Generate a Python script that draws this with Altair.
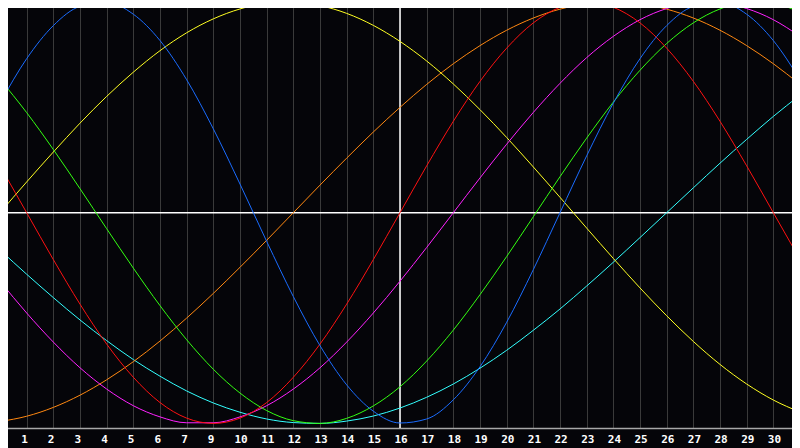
import altair as alt
import pandas as pd

# day index along the chart (0 .. 30)
days = list(range(31))

# values, one per day (-1 .. 1)
physical = [0.52, 0.731, 0.888, 0.979, 0.998, 0.942, 0.817, 0.631, 0.398, 0.136,
            -0.136, -0.398, -0.631, -0.817, -0.942, -0.998, -0.979, -0.888, -0.731, -0.52,
            -0.27, 0.0, 0.27, 0.52, 0.731, 0.888, 0.979, 0.998, 0.942, 0.817, 0.631]
emotional = [0.2225, 0.0, -0.2225, -0.4339, -0.6235, -0.781, -0.901, -0.975, -1.0, -0.975,
             -0.901, -0.781, -0.6235, -0.4339, -0.2225, 0.0, 0.2225, 0.4339, 0.6235, 0.781,
             0.901, 0.975, 1.0, 0.975, 0.901, 0.781, 0.6235, 0.4339, 0.2225, 0.0, -0.2225]
intellectual = [0.633, 0.475, 0.3, 0.114, -0.076, -0.263, -0.441, -0.603, -0.743, -0.856,
                -0.939, -0.987, -1.0, -0.976, -0.917, -0.826, -0.704, -0.557, -0.389, -0.208,
                -0.019, 0.171, 0.354, 0.525, 0.676, 0.803, 0.901, 0.967, 0.998, 0.992, 0.951]
intuitive = [-0.325, -0.476, -0.614, -0.736, -0.837, -0.916, -0.969, -0.997, -0.997, -0.969,
             -0.916, -0.837, -0.736, -0.614, -0.476, -0.325, -0.165, 0.0, 0.165, 0.325,
             0.476, 0.614, 0.736, 0.837, 0.916, 0.969, 0.997, 0.997, 0.969, 0.916, 0.837]
aesthetic = [0.0, 0.146, 0.288, 0.425, 0.552, 0.667, 0.769, 0.854, 0.92, 0.967,
             0.994, 0.999, 0.983, 0.946, 0.889, 0.813, 0.72, 0.611, 0.489, 0.357,
             0.217, 0.073, -0.073, -0.217, -0.357, -0.489, -0.611, -0.72, -0.813, -0.889, -0.946]
awareness = [-0.991, -0.966, -0.924, -0.866, -0.793, -0.707, -0.609, -0.5, -0.383, -0.259,
             -0.131, 0.0, 0.131, 0.259, 0.383, 0.5, 0.609, 0.707, 0.793, 0.866,
             0.924, 0.966, 0.991, 1.0, 0.991, 0.966, 0.924, 0.866, 0.793, 0.707, 0.609]
spiritual = [-0.177, -0.292, -0.403, -0.509, -0.607, -0.697, -0.776, -0.846, -0.903, -0.947,
             -0.979, -0.996, -1.0, -0.989, -0.965, -0.927, -0.876, -0.813, -0.738, -0.653,
             -0.558, -0.457, -0.348, -0.235, -0.118, 0.0, 0.118, 0.235, 0.348, 0.457, 0.558]

cycle_names = ["spiritual", "awareness", "aesthetic", "intuitive", "intellectual", "emotional", "physical"]
cycle_colors = ["#33ffff", "#ff8811", "#ffff22", "#ff22ff", "#33ff11", "#ff1111", "#1a6cff"]
cycle_values = [spiritual, awareness, aesthetic, intuitive, intellectual, emotional, physical]

# x-axis labels at grid lines 1..29
tick_days = list(range(1, 30))
tick_labels = ["1", "2", "3", "4", "5", "6", "7", "9", "10", "11", "12", "13", "14", "15",
               "16", "17", "18", "19", "20", "21", "22", "23", "24", "25", "26", "27", "28",
               "29", "30"]
today = [15]
zero = [0]

rows = []
for name, vals in zip(cycle_names, cycle_values):
    for d, v in zip(days, vals):
        rows.append({"day": d, "value": v, "cycle": name})
df = pd.DataFrame(rows)

label_expr = "[" + ",".join("'" + t + "'" for t in tick_labels) + "][datum.value - 1]"

xscale = alt.Scale(domain=[0, 30], nice=False, zero=False)
yscale = alt.Scale(domain=[-1.0218, 1.0095], nice=False, zero=False)

xaxis = alt.Axis(
    values=tick_days, labelExpr=label_expr, grid=True, gridColor="#3a3a3a", gridWidth=1,
    domainColor="#a8a8a8", domainWidth=1.5, ticks=False, tickSize=0,
    labelColor="#ffffff", labelFont="DejaVu Sans Mono", labelFontSize=11,
    labelFontWeight="bold", labelAlign="left", labelOffset=-6, labelPadding=5,
    labelBaseline="top", labelFlush=False, labelOverlap=False, title="",
)

base_x = alt.X("day:Q", scale=xscale, axis=xaxis)

lines = alt.Chart(df).mark_line(strokeWidth=1, interpolate="monotone").encode(
    x=base_x,
    y=alt.Y("value:Q", scale=yscale, axis=None),
    color=alt.Color("cycle:N", scale=alt.Scale(domain=cycle_names, range=cycle_colors), legend=None),
)

hrule = alt.Chart(pd.DataFrame({"v": zero})).mark_rule(color="#ffffff", strokeWidth=1.5).encode(
    y=alt.Y("v:Q", scale=yscale, axis=None)
)
vrule = alt.Chart(pd.DataFrame({"d": today})).mark_rule(color="#ffffff", strokeWidth=1.5).encode(
    x=alt.X("d:Q", scale=xscale, axis=xaxis)
)

chart = alt.layer(hrule, vrule, lines).properties(
    width=800, height=428,
    padding={"left": -8, "top": -8, "right": -8, "bottom": 20},
    autosize=alt.AutoSizeParams(type="none"),
    background="#050509",
).configure_view(strokeWidth=0)

chart.save("out.html", embed_options={"renderer": "svg", "actions": False})
